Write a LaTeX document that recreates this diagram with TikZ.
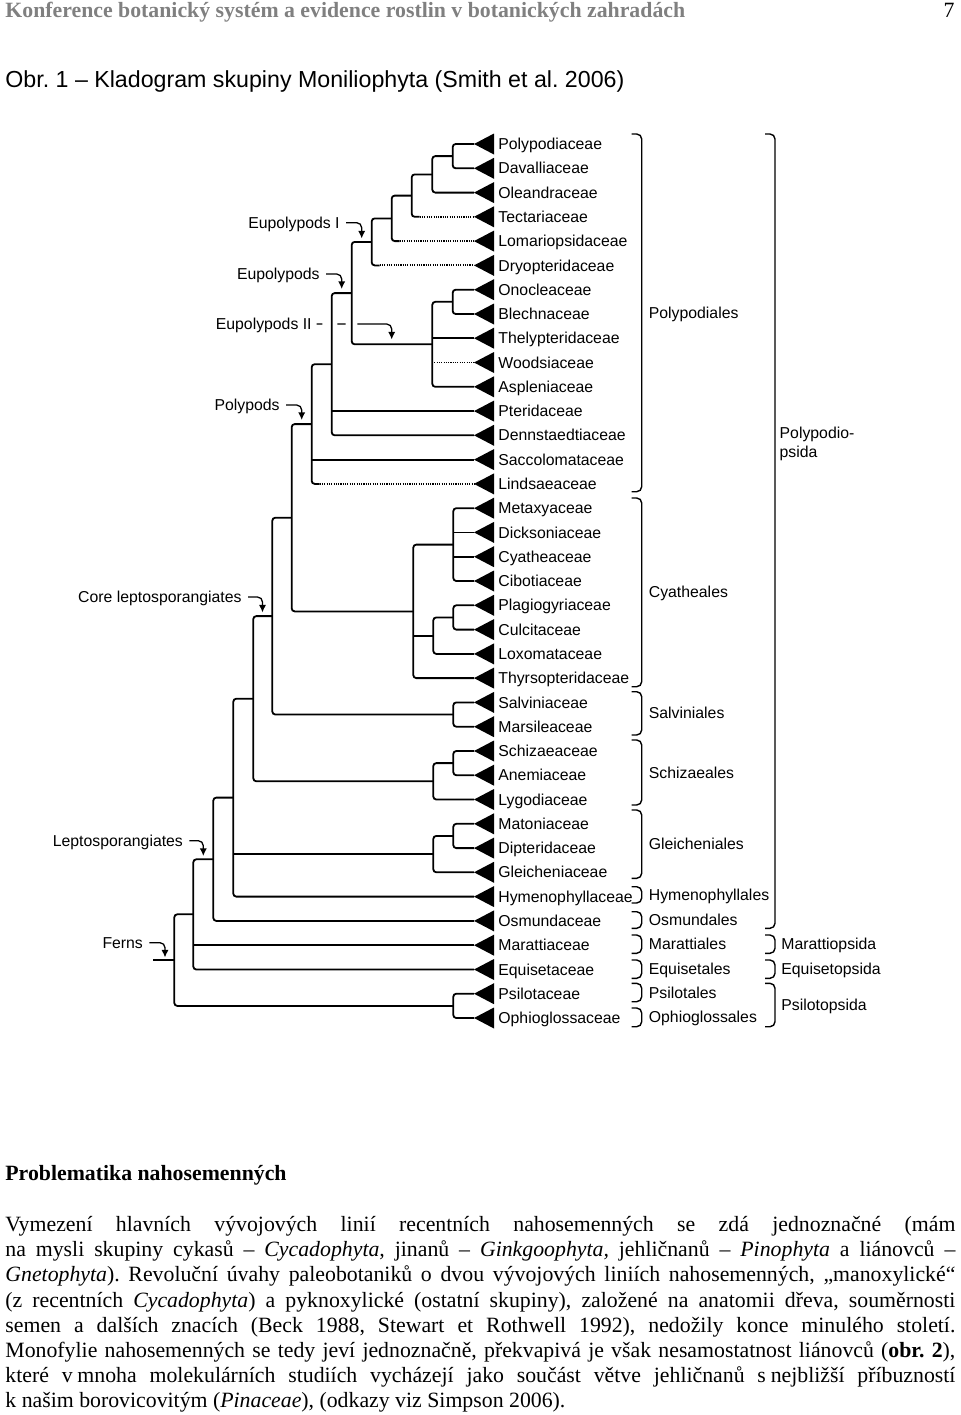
\documentclass[tikz,border=0pt]{standalone}
\usepackage{fontspec}
\setmainfont{Liberation Serif}
\newfontfamily\figfont{Liberation Sans}
\usepackage{xcolor}
\usepackage{tikz}
\usetikzlibrary{arrows.meta, calc, positioning}
\definecolor{headgray}{gray}{0.5}
\frenchspacing
\tikzstyle{branch} = [line width=0.9pt, rounded corners=1.5pt]
\tikzstyle{dotbranch} = [line width=0.95pt, dash pattern=on 0.55pt off 0.6pt]
\tikzstyle{famname} = [anchor=west, inner sep=0pt, text height=5.6pt, text depth=0pt, font=\figfont\fontsize{7.9}{9}\selectfont]
\tikzstyle{cladename} = [famname, anchor=east]
\tikzstyle{bracket} = [line width=0.7pt, rounded corners=2.5pt]
\tikzstyle{callout} = [line width=0.65pt, rounded corners=2.5pt, -{Latex[length=3.8pt,width=3.6pt]}, shorten <=3pt]
\tikzstyle{bodyline} = [anchor=base west, inner sep=0pt, font=\fontsize{10.9}{12.55}\selectfont]

\begin{document}
\begin{tikzpicture}[x=0.5pt, y=-0.5pt]
    \useasboundingbox (0,0) rectangle (960,1415);

    % Page Head and Figure Title
    \node [anchor=base west, inner sep=0pt, text=headgray, font=\fontsize{10.9}{12}\selectfont\bfseries] (runhead) at (5,17.3) {Konference botanický systém a evidence rostlin v botanických zahradách};
    \node [anchor=base east, inner sep=0pt, font=\fontsize{10.9}{12}\selectfont] (pagenum) at (955,17.3) {7};
    \node [anchor=base west, inner sep=0pt, font=\figfont\fontsize{11.6}{14}\selectfont] (figtitle) at (5,87.3) {Obr. 1 – Kladogram skupiny Moniliophyta (Smith et al. 2006)};

    % Families (leaf tips with triangles)
    \foreach \n/\y/\t in {polypodiaceae/144.0/Polypodiaceae, davalliaceae/168.3/Davalliaceae,
        oleandraceae/192.6/Oleandraceae, tectariaceae/216.8/Tectariaceae,
        lomariopsidaceae/241.1/Lomariopsidaceae, dryopteridaceae/265.4/Dryopteridaceae,
        onocleaceae/289.7/Onocleaceae, blechnaceae/314.0/Blechnaceae,
        thelypteridaceae/338.2/Thelypteridaceae, woodsiaceae/362.5/Woodsiaceae,
        aspleniaceae/386.8/Aspleniaceae, pteridaceae/411.1/Pteridaceae,
        dennstaedtiaceae/435.3/Dennstaedtiaceae, saccolomataceae/459.6/Saccolomataceae,
        lindsaeaceae/483.9/Lindsaeaceae, metaxyaceae/508.2/Metaxyaceae,
        dicksoniaceae/532.4/Dicksoniaceae, cyatheaceae/556.7/Cyatheaceae,
        cibotiaceae/581.0/Cibotiaceae, plagiogyriaceae/605.3/Plagiogyriaceae,
        culcitaceae/629.6/Culcitaceae, loxomataceae/653.9/Loxomataceae,
        thyrsopteridaceae/678.1/Thyrsopteridaceae, salviniaceae/702.4/Salviniaceae,
        marsileaceae/726.7/Marsileaceae, schizaeaceae/751.0/Schizaeaceae,
        anemiaceae/775.2/Anemiaceae, lygodiaceae/799.5/Lygodiaceae,
        matoniaceae/823.8/Matoniaceae, dipteridaceae/848.1/Dipteridaceae,
        gleicheniaceae/872.3/Gleicheniaceae, hymenophyllaceae/896.6/Hymenophyllaceae,
        osmundaceae/920.9/Osmundaceae, marattiaceae/945.2/Marattiaceae,
        equisetaceae/969.5/Equisetaceae, psilotaceae/993.7/Psilotaceae,
        ophioglossaceae/1018.0/Ophioglossaceae}
    {
        \coordinate (\n) at (474,\y);
        \fill (\n) -- ++(20,-10.5) -- ++(0,21) -- cycle;
        \node [famname] (\n-name) at (498,\y) {\t};
    }

    % Clade Position Definitions
    \coordinate (polydav) at (452.7,156.1);
    \coordinate (oleand) at (432.3,174.4);
    \coordinate (tectar) at (411.7,195.6);
    \coordinate (lomar) at (391.7,218.4);
    \coordinate (eupolyI) at (371.7,241.9);
    \coordinate (onoblech) at (452.7,301.8);
    \coordinate (eupolyII) at (432.3,344.3);
    \coordinate (eupoly) at (351.7,293.1);
    \coordinate (pterid) at (331.7,364.2);
    \coordinate (lindsaea) at (311.7,424.1);
    \coordinate (cyatheoid) at (453.3,544.6);
    \coordinate (plagcul) at (453.3,617.4);
    \coordinate (loxom) at (433.3,635.7);
    \coordinate (cyatheales) at (413.3,611.4);
    \coordinate (polypods) at (291.7,517.7);
    \coordinate (salviniales) at (453.3,714.5);
    \coordinate (corelepto) at (272.3,616.1);
    \coordinate (schizanem) at (453.3,763.1);
    \coordinate (schizaeales) at (433.3,781.3);
    \coordinate (coreschiz) at (253.3,698.7);
    \coordinate (matdip) at (453.3,835.9);
    \coordinate (gleicheniales) at (433.3,854.1);
    \coordinate (gleichhym) at (233.3,797.6);
    \coordinate (lepto) at (213.3,859.3);
    \coordinate (ferncore) at (193.3,914.3);
    \coordinate (psilophio) at (453.3,1005.9);
    \coordinate (ferns) at (174.3,960.1);
    \coordinate (fernbase) at (153.3,960.1);

    % Branches
    \draw [branch] (polypodiaceae) -| (polydav) |- (davalliaceae);
    \draw [branch] (polydav) -| (oleand) |- (oleandraceae);
    \draw [branch] (oleand) -| (tectar) |- ($(tectar |- tectariaceae)+(8,0)$);
    \draw [dotbranch] ($(tectar |- tectariaceae)+(8,0)$) -- (tectariaceae);
    \draw [branch] (tectar) -| (lomar) |- ($(lomar |- lomariopsidaceae)+(8,0)$);
    \draw [dotbranch] ($(lomar |- lomariopsidaceae)+(8,0)$) -- (lomariopsidaceae);
    \draw [branch] (lomar) -| (eupolyI) |- ($(eupolyI |- dryopteridaceae)+(8,0)$);
    \draw [dotbranch] ($(eupolyI |- dryopteridaceae)+(8,0)$) -- (dryopteridaceae);
    \draw [branch] (onocleaceae) -| (onoblech) |- (blechnaceae);
    \draw [branch] (onoblech) -| (eupolyII) |- (aspleniaceae);
    \draw [branch] (eupolyII |- thelypteridaceae) -- (thelypteridaceae);
    \draw [dotbranch] ($(eupolyII |- woodsiaceae)+(2,0)$) -- (woodsiaceae);
    \draw [branch] (eupolyI) -| (eupoly) |- (eupolyII);
    \draw [branch] (eupoly) -| (pterid) |- (dennstaedtiaceae);
    \draw [branch] (pterid |- pteridaceae) -- (pteridaceae);
    \draw [branch] (pterid) -| (lindsaea) |- ($(lindsaea |- lindsaeaceae)+(8,0)$);
    \draw [dotbranch] ($(lindsaea |- lindsaeaceae)+(8,0)$) -- (lindsaeaceae);
    \draw [branch] (lindsaea |- saccolomataceae) -- (saccolomataceae);

    \draw [branch] (metaxyaceae) -| (cyatheoid) |- (cibotiaceae);
    \draw [branch] (cyatheoid |- dicksoniaceae) -- (dicksoniaceae);
    \draw [branch] (cyatheoid |- cyatheaceae) -- (cyatheaceae);
    \draw [branch] (plagiogyriaceae) -| (plagcul) |- (culcitaceae);
    \draw [branch] (plagcul) -| (loxom) |- (loxomataceae);
    \draw [branch] (cyatheoid) -| (cyatheales) |- (thyrsopteridaceae);
    \draw [branch] (cyatheales |- loxom) -- (loxom);
    \draw [branch] (lindsaea) -| (polypods) |- (cyatheales);
    \draw [branch] (salviniaceae) -| (salviniales) |- (marsileaceae);
    \draw [branch] (polypods) -| (corelepto) |- (salviniales);

    \draw [branch] (schizaeaceae) -| (schizanem) |- (anemiaceae);
    \draw [branch] (schizanem) -| (schizaeales) |- (lygodiaceae);
    \draw [branch] (corelepto) -| (coreschiz) |- (schizaeales);
    \draw [branch] (matoniaceae) -| (matdip) |- (dipteridaceae);
    \draw [branch] (matdip) -| (gleicheniales) |- (gleicheniaceae);
    \draw [branch] (coreschiz) -| (gleichhym) |- (hymenophyllaceae);
    \draw [branch] (gleichhym |- gleicheniales) -- (gleicheniales);
    \draw [branch] (gleichhym) -| (lepto) |- (osmundaceae);
    \draw [branch] (lepto) -| (ferncore) |- (equisetaceae);
    \draw [branch] (ferncore |- marattiaceae) -- (marattiaceae);
    \draw [branch] (psilotaceae) -| (psilophio) |- (ophioglossaceae);
    \draw [branch] (ferncore) -| (ferns) |- (psilophio);
    \draw [branch] (fernbase) -- (ferns);

    % Clade Labels with Pointers
    \node [cladename] (lab-eupolyI) at (340,222.7) {Eupolypods I};
    \node [cladename] (lab-eupoly) at (320,274) {Eupolypods};
    \node [cladename] (lab-eupolyII) at (312,324) {Eupolypods II};
    \node [cladename] (lab-polypods) at (280,405) {Polypods};
    \node [cladename] (lab-corelepto) at (242,597) {Core leptosporangiates};
    \node [cladename] (lab-lepto) at (183.3,840.7) {Leptosporangiates};
    \node [cladename] (lab-ferns) at (143.3,942.7) {Ferns};

    \coordinate (head-eupolyI) at (361.7,238.5);
    \coordinate (head-eupoly) at (341.7,289);
    \coordinate (head-eupolyII) at (391.7,339.5);
    \coordinate (head-polypods) at (301.7,420);
    \coordinate (head-corelepto) at (262.5,612.5);
    \coordinate (head-lepto) at (203.3,856);
    \coordinate (head-ferns) at (165,957.5);

    \draw [callout] (lab-eupolyI) -| (head-eupolyI);
    \draw [callout] (lab-eupoly) -| (head-eupoly);
    \draw [callout, shorten <=2.3pt, dash pattern=on 2.85pt off 7.5pt on 4.15pt off 5.85pt on 80pt] (lab-eupolyII) -| (head-eupolyII);
    \draw [callout] (lab-polypods) -| (head-polypods);
    \draw [callout] (lab-corelepto) -| (head-corelepto);
    \draw [callout] (lab-lepto) -| (head-lepto);
    \draw [callout] (lab-ferns) -| (head-ferns);

    % Orders
    \foreach \t/\b/\o in {134/491.7/Polypodiales, 498/686.7/Cyatheales, 691.7/735/Salviniales,
        740/805/Schizaeales, 810/878.3/Gleicheniales, 886.7/903/Hymenophyllales,
        911.7/928.3/Osmundales, 935/953.3/Marattiales, 960/978.3/Equisetales,
        983.3/1001.7/Psilotales, 1008/1026.7/Ophioglossales}
    {
        \draw [bracket] (631.7,\t) -| (641.7,\b) -- (631.7,\b);
        \node [famname] (ord-\o) at (648.5,{(\t+\b)/2}) {\o};
    }

    % Classes
    \foreach \t/\b/\c in {935/953.3/Marattiopsida, 960/978.3/Equisetopsida, 983.3/1026.7/Psilotopsida}
    {
        \draw [bracket] (765,\t) -| (775,\b) -- (765,\b);
        \node [famname] (cls-\c) at (781,{(\t+\b)/2}) {\c};
    }
    \draw [bracket] (765,134) -| (775,928.3) -- (765,928.3);
    \node [anchor=north west, inner sep=0pt, align=left, font=\figfont\fontsize{7.9}{9.35}\selectfont] (cls-Polypodiopsida) at (779.3,427) {Polypodio-\\psida};

    % Text Below the Figure
    \node [anchor=base west, inner sep=0pt, font=\fontsize{10.9}{12}\selectfont\bfseries] (section) at (5,1180.7) {Problematika nahosemenných};
    \node [bodyline] (line1) at (5,1231.7) {\hbox to 475pt{Vymezení hlavních vývojových linií recentních nahosemenných se zdá jednoznačné (mám}};
    \node [bodyline] (line2) at (5,1256.8) {\hbox to 475pt{na mysli skupiny cykasů – \textit{Cycadophyta,} jinanů – \textit{Ginkgoophyta,} jehličnanů – \textit{Pinophyta} a liánovců –}};
    \node [bodyline] (line3) at (5,1281.9) {\hbox to 475pt{\textit{Gnetophyta}). Revoluční úvahy paleobotaniků o dvou vývojových liniích nahosemenných, „manoxylické“}};
    \node [bodyline] (line4) at (5,1307.0) {\hbox to 475pt{(z recentních \textit{Cycadophyta}) a pyknoxylické (ostatní skupiny), založené na anatomii dřeva, souměrnosti}};
    \node [bodyline] (line5) at (5,1332.1) {\hbox to 475pt{semen a dalších znacích (Beck 1988, Stewart et Rothwell 1992), nedožily konce minulého století.}};
    \node [bodyline] (line6) at (5,1357.2) {\hbox to 475pt{Monofylie nahosemenných se tedy jeví jednoznačně, překvapivá je však nesamostatnost liánovců (\textbf{obr. 2}),}};
    \node [bodyline] (line7) at (5,1382.3) {\hbox to 475pt{které v\hspace{0.22em}mnoha molekulárních studiích vycházejí jako součást větve jehličnanů s\hspace{0.22em}nejbližší příbuzností}};
    \node [bodyline] (line8) at (5,1407.4) {k našim borovicovitým (\textit{Pinaceae}), (odkazy viz Simpson 2006).};
\end{tikzpicture}
\end{document}
